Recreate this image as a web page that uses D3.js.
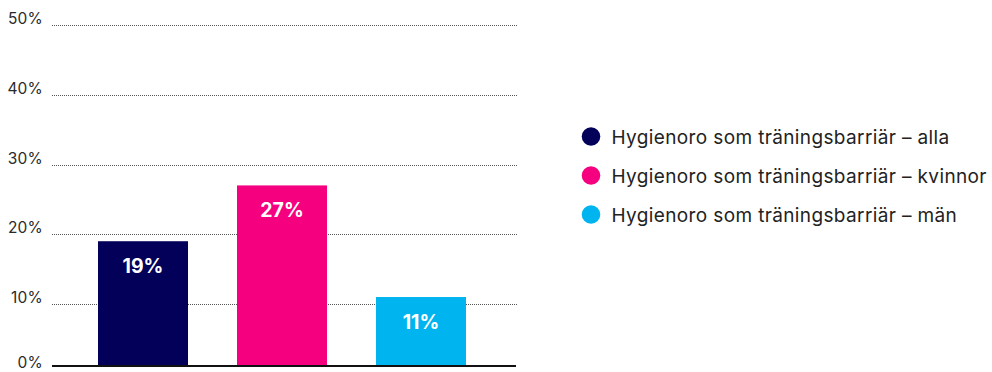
<!DOCTYPE html>
<html>
<head>
<meta charset="utf-8">
<script src="https://cdn.jsdelivr.net/npm/d3@7"></script>
<style>
  html, body { margin: 0; padding: 0; background: #fff; }
  svg { display: block; font-family: Inter, "Noto Sans", sans-serif; }
</style>
</head>
<body>
<svg id="chart" width="992" height="372"></svg>
<script>
// Share of respondents for whom hygiene worries are a barrier to exercise
const categories = ["alla", "kvinnor", "män"];
const values = [19, 27, 11];
const seriesLabels = [
  "Hygienoro som träningsbarriär – alla",
  "Hygienoro som träningsbarriär – kvinnor",
  "Hygienoro som träningsbarriär – män"
];
const colors = ["#03005A", "#F5007F", "#00B4EF"];
const yTicks = [0, 10, 20, 30, 40, 50];

const svg = d3.select("#chart");

const y = d3.scaleLinear().domain([0, 50]).range([373.75, 25]);
const x = d3.scaleBand().domain(categories).range([49, 515])
  .paddingInner(0.3525).paddingOuter(0.3525);

const axisY = 366;
const gridLeft = 52, gridRight = 518;

// dotted gridlines (0 sits on the solid baseline)
svg.append("g").selectAll("line")
  .data(yTicks.filter(d => d > 0))
  .join("line")
  .attr("x1", gridLeft).attr("x2", gridRight)
  .attr("y1", d => Math.round(y(d)) + 0.5).attr("y2", d => Math.round(y(d)) + 0.5)
  .attr("stroke", "#555").attr("stroke-width", 1)
  .attr("stroke-dasharray", "1,1");

// tick labels
svg.append("g").selectAll("text")
  .data(yTicks)
  .join("text")
  .attr("x", 43)
  .attr("y", d => d === 0 ? 368 : y(d) - 1)
  .attr("text-anchor", "end")
  .attr("font-size", 15.5)
  .attr("letter-spacing", 0.2)
  .attr("fill", "#2a2a2a")
  .text(d => d + "%");

// bars
svg.append("g").selectAll("rect")
  .data(values)
  .join("rect")
  .attr("x", (d, i) => x(categories[i]))
  .attr("width", x.bandwidth())
  .attr("y", d => y(d))
  .attr("height", d => axisY - y(d))
  .attr("fill", (d, i) => colors[i]);

// value labels inside bars
svg.append("g").selectAll("text")
  .data(values)
  .join("text")
  .attr("x", (d, i) => x(categories[i]) + x.bandwidth() / 2)
  .attr("y", d => y(d) + 32)
  .attr("text-anchor", "middle")
  .attr("font-size", 19.5)
  .attr("font-weight", 700)
  .attr("fill", "#fff")
  .text(d => d + "%");

// baseline
svg.append("line")
  .attr("x1", gridLeft).attr("x2", 516)
  .attr("y1", axisY).attr("y2", axisY)
  .attr("stroke", "#111").attr("stroke-width", 2);

// legend
const legend = svg.append("g").selectAll("g")
  .data(seriesLabels)
  .join("g")
  .attr("transform", (d, i) => `translate(591, ${136.5 + i * 39})`);
legend.append("circle").attr("r", 9.3).attr("fill", (d, i) => colors[i]);
legend.append("text")
  .attr("x", 20.5).attr("y", 7)
  .attr("font-size", 19)
  .attr("letter-spacing", 0.37)
  .attr("fill", "#222")
  .text(d => d);
</script>
</body>
</html>
